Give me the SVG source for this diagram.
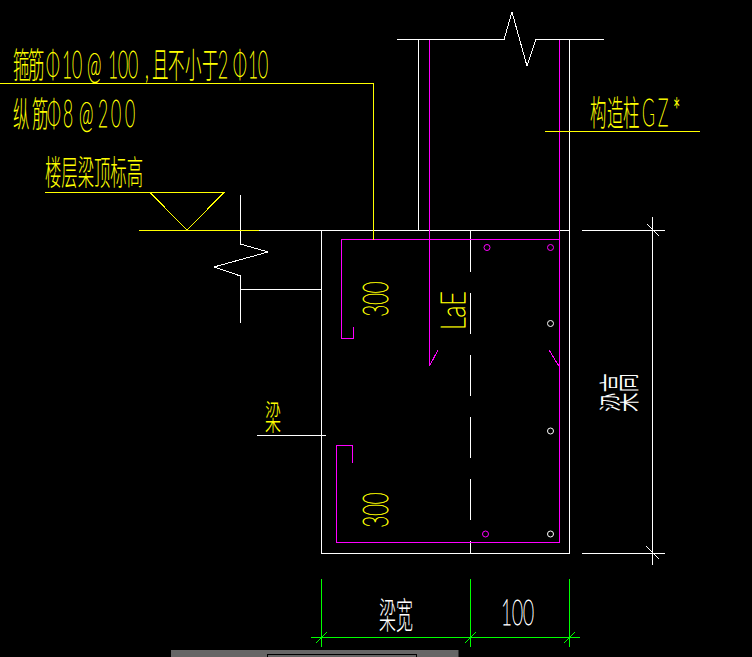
<svg xmlns="http://www.w3.org/2000/svg" width="752" height="657" viewBox="0 0 752 657">
<style>
path{shape-rendering:crispEdges}
path,circle{stroke-width:1;fill:none}
.w{stroke:#fff}
.y{stroke:#ff0}
.m{stroke:#f0f}
.g{stroke:#0f0}
.ty,.tw{font-family:"Noto Sans CJK SC","Liberation Sans",sans-serif;font-weight:300}
.ty{fill:#ff0;stroke:#ff0}.tw{fill:#fff;stroke:#fff}
text{stroke-width:0}
.l{font-family:Lato,"Liberation Sans",sans-serif;font-weight:100;stroke-width:.85}
</style>
<rect width="752" height="657" fill="#000"/>
<g id="toolbar">
<rect x="171" y="650" width="287.500" height="7" fill="#666"/>
<rect x="267.500" y="654.500" width="149" height="6" fill="#666" stroke="#000"/>
</g>
<g id="connectors">
<path class="w" d="M397 39.500H504L512 12L527 66L536 39.500H604M418.500 39.500V230.500M569.500 39.500V553.500H321.500V230.500H569.500M321.500 230.500H259M240.500 195V244L268 252L214 267L240.500 276V323M240.500 289.500H321.500M257 435.500H326"/>
<path class="w" d="M470.500 230.500V553" stroke-dasharray="41 21"/>
<path class="m" d="M429.500 39.500V366L438 350M559.500 39.500V542.500H336.500V445.500H352.500V463M549 350L559.500 367M353 327V338.500H341.500V239.500H559.500"/>
<path class="y" d="M0 83.500H373.500V239.500M45 192.500H224L187 230L150 192.500M139 230.500H259M545 131.500H700"/>
<path class="w" d="M582 230.500H665M582 553.500H665M652.500 217V565M647 224L659 236M646 546L659 559"/>
<path class="g" d="M311 637.500H580M321.500 579V647M470.500 579V647M569.500 579V647M316 643L327 632M465 643L476 632M564 643L575 632"/>
</g>
<g id="rebars">
<circle class="m" cx="487" cy="247.500" r="3"/>
<circle class="m" cx="550.500" cy="247.500" r="3"/>
<circle class="m" cx="485.500" cy="534" r="3"/>
<circle class="w" cx="550.500" cy="323.500" r="3"/>
<circle class="w" cx="550.500" cy="431" r="3"/>
<circle class="w" cx="550.500" cy="534" r="3"/>
</g>
<g id="label-stirrup"><text class="ty" transform="scale(.47 1)" y="78" font-size="35" x="27.700 59.600 97.900 131.900 153.200 185.100 229.800 251.100 272.300 308.500 323.400 357.400 393.600 429.800 463.800 495.700 527.700 548.900">箍筋<tspan class="l" font-size="37">Φ10@100,</tspan>且不小于<tspan class="l" font-size="37">2Φ10</tspan></text></g>
<g id="label-long"><text class="ty" transform="scale(.47 1)" y="127" font-size="35" x="27.700 68.100 100 134 168.100 208.500 236.200 266">纵筋<tspan class="l" font-size="37">Φ8@200</tspan></text></g>
<g id="label-level"><text class="ty" x="45" y="185" font-size="34" textLength="98" lengthAdjust="spacingAndGlyphs">楼层梁顶标高</text></g>
<g id="label-gz"><text class="ty" transform="scale(.47 1)" y="126" font-size="35" x="1255.300 1291.500 1325.500 1366 1400 1431.900">构造柱<tspan class="l" font-size="37">GZ*</tspan></text></g>
<g id="label-beam"><text class="ty" x="265" y="430" font-size="34" textLength="16" lengthAdjust="spacingAndGlyphs">梁</text></g>
<g id="label-300a"><text class="ty l" transform="translate(388 316.500) rotate(-90)" font-size="36" textLength="35" lengthAdjust="spacingAndGlyphs">300</text></g>
<g id="label-300b"><text class="ty l" transform="translate(388 527.500) rotate(-90)" font-size="36" textLength="35" lengthAdjust="spacingAndGlyphs">300</text></g>
<g id="label-lae"><text class="ty l" transform="translate(465 330) rotate(-90)" font-size="34" textLength="39" lengthAdjust="spacingAndGlyphs">LaE</text></g>
<g id="label-height"><text class="tw" transform="translate(635 412) rotate(-90)" font-size="42" textLength="39" lengthAdjust="spacingAndGlyphs">梁高</text></g>
<g id="label-width"><text class="tw" x="379" y="629" font-size="36" textLength="34" lengthAdjust="spacingAndGlyphs">梁宽</text></g>
<g id="label-100"><text class="tw l" x="501" y="625" font-size="36" textLength="33" lengthAdjust="spacingAndGlyphs">100</text></g>
</svg>
